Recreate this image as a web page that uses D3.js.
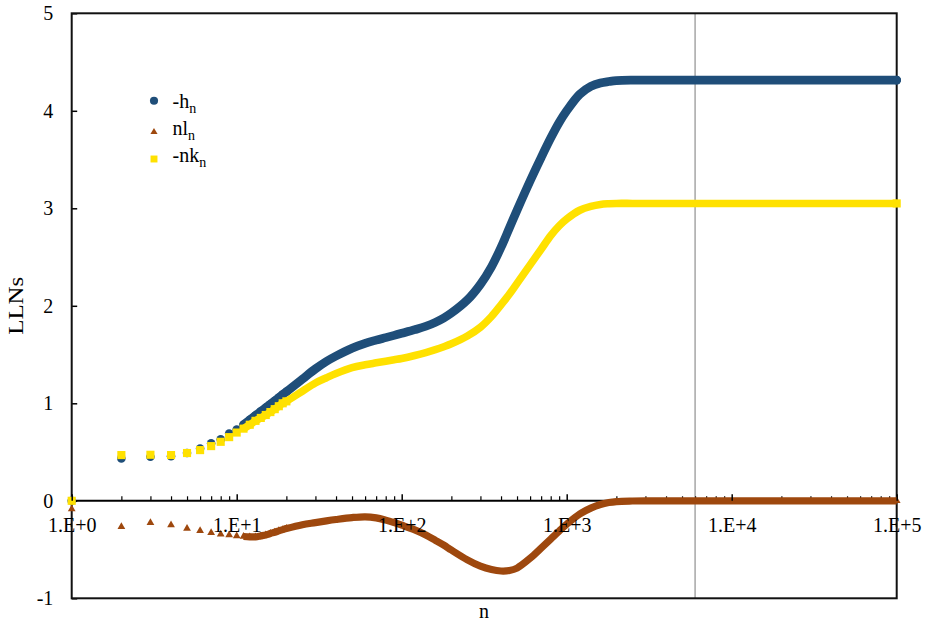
<!DOCTYPE html>
<html>
<head>
<meta charset="utf-8">
<script src="https://cdn.jsdelivr.net/npm/d3@7"></script>
<style>
  html, body { margin: 0; padding: 0; background: #fff; }
  svg { display: block; }
  text { font-family: "Liberation Serif", "Times New Roman", serif; fill: #000; }
</style>
</head>
<body>
<svg id="chart" width="925" height="630"></svg>
<script>
// Sample sizes n and the three limit quantities at each n
const nValues = [1, 2, 3, 4, 5, 6, 7, 8, 9, 10,
  11, 12, 13, 14, 15, 16, 17, 18, 19, 20,
  25, 30, 35, 40, 50, 60, 70, 80, 90, 100,
  120, 140, 160, 180, 200, 250, 300, 350, 400, 450,
  500, 600, 700, 800, 900, 1000, 1200, 1400, 1600, 1800,
  2000, 2500, 3000, 4000, 5000, 7000, 10000, 20000, 50000, 100000];

const negH = [0, 0.435, 0.451, 0.458, 0.49, 0.537, 0.589, 0.63, 0.69, 0.73,
  0.78, 0.83, 0.875, 0.917, 0.955, 0.99, 1.025, 1.058, 1.09, 1.118,
  1.248, 1.353, 1.43, 1.485, 1.565, 1.615, 1.648, 1.674, 1.697, 1.718,
  1.755, 1.79, 1.83, 1.875, 1.925, 2.06, 2.22, 2.40, 2.60, 2.80,
  2.98, 3.28, 3.52, 3.72, 3.88, 4.0, 4.17, 4.25, 4.285, 4.30,
  4.31, 4.315, 4.315, 4.315, 4.315, 4.315, 4.315, 4.315, 4.315, 4.315];

const nL = [-0.085, -0.267, -0.226, -0.249, -0.283, -0.307, -0.328, -0.342, -0.35, -0.362,
  -0.366, -0.37, -0.37, -0.36, -0.35, -0.335, -0.322, -0.308, -0.296, -0.285,
  -0.245, -0.224, -0.206, -0.192, -0.172, -0.164, -0.175, -0.198, -0.224, -0.25,
  -0.298, -0.35, -0.405, -0.455, -0.505, -0.605, -0.67, -0.705, -0.72, -0.715,
  -0.69, -0.59, -0.485, -0.392, -0.31, -0.24, -0.135, -0.075, -0.038, -0.018,
  -0.008, -0.002, 0, 0, 0, 0, 0, 0, 0, 0];

const negNK = [0, 0.469, 0.472, 0.469, 0.49, 0.52, 0.561, 0.605, 0.653, 0.70,
  0.74, 0.78, 0.82, 0.85, 0.88, 0.91, 0.94, 0.97, 1.0, 1.02,
  1.124, 1.208, 1.262, 1.305, 1.365, 1.395, 1.415, 1.432, 1.447, 1.46,
  1.49, 1.52, 1.55, 1.58, 1.61, 1.69, 1.78, 1.89, 2.01, 2.12,
  2.23, 2.42, 2.58, 2.72, 2.82, 2.89, 2.98, 3.02, 3.04, 3.047,
  3.05, 3.05, 3.05, 3.05, 3.05, 3.05, 3.05, 3.05, 3.05, 3.05];

const xMajorTicks = [1, 10, 100, 1000, 10000, 100000];
const xTickLabels = ["1.E+0", "1.E+1", "1.E+2", "1.E+3", "1.E+4", "1.E+5"];
const yTicks = [-1, 0, 1, 2, 3, 4, 5];
const referenceN = 6000;

const seriesNames = ["-h", "nl", "-nk"];
const seriesColors = ["#1F4E79", "#9E480E", "#FFE100"];

const svg = d3.select("#chart");
const W = 925, H = 630;
const plotLeft = 71.7, plotRight = 896.7, plotTop = 13.3, plotBottom = 598.3;

const x = d3.scaleLog().domain([1, 100000]).range([plotLeft, plotRight]);
const y = d3.scaleLinear().domain([-1, 5]).range([plotBottom, plotTop]);

svg.append("rect").attr("width", W).attr("height", H).attr("fill", "#fff");

// vertical reference line
svg.append("line")
  .attr("x1", x(referenceN)).attr("x2", x(referenceN))
  .attr("y1", plotTop).attr("y2", plotBottom)
  .attr("stroke", "#A6A6A6").attr("stroke-width", 1.5);

// y axis: ticks point inward, labels to the left
const yAxis = d3.axisLeft(y).tickValues(yTicks).tickSizeInner(-5.5).tickSizeOuter(0).tickPadding(18.4)
  .tickFormat(d => String(d));
const gy = svg.append("g").attr("transform", `translate(${plotLeft},0)`).call(yAxis);
gy.attr("font-size", null).attr("font-family", null);
gy.select(".domain").remove();
gy.selectAll(".tick line").attr("stroke", "#000").attr("stroke-width", 1.5);
gy.selectAll(".tick text").style("font-size", "20px").attr("fill", "#000");

// x axis drawn along y = 0 with ticks pointing up
const minorTicks = [];
for (let e = 0; e < 5; e++) for (let k = 2; k <= 9; k++) minorTicks.push(k * Math.pow(10, e));

const xMinor = d3.axisBottom(x).tickValues(minorTicks).tickSizeInner(-4.5).tickSizeOuter(0).tickFormat("");
const gxm = svg.append("g").attr("transform", `translate(0,${y(0)})`).call(xMinor);
gxm.select(".domain").remove();
gxm.selectAll(".tick line").attr("stroke", "#000").attr("stroke-width", 1.2);

svg.append("line")
  .attr("x1", plotLeft).attr("x2", plotRight).attr("y1", y(0)).attr("y2", y(0))
  .attr("stroke", "#000").attr("stroke-width", 2);

// plot border
svg.append("rect")
  .attr("x", plotLeft).attr("y", plotTop).attr("width", plotRight - plotLeft).attr("height", plotBottom - plotTop)
  .attr("fill", "none").attr("stroke", "#111").attr("stroke-width", 2);

// series
const seriesValues = [negH, nL, negNK];
const symbols = [d3.symbolCircle, d3.symbolTriangle, d3.symbolSquare];
const symbolSizes = [58, 26, 66];
const bandWidths = [8.7, 7.2, 7.6];
const bandCaps = ["round", "butt", "butt"];
const denseFrom = 11;

const plot = svg.append("g");
seriesValues.forEach((vals, si) => {
  const pts = nValues.map((n, i) => ({ n, v: vals[i] }));
  const dense = pts.filter(p => p.n >= denseFrom);
  const line = d3.line().x(p => x(p.n)).y(p => y(p.v)).curve(d3.curveCatmullRom.alpha(0.5));
  const g = plot.append("g");
  g.append("path").datum(dense)
    .attr("d", line)
    .attr("fill", "none")
    .attr("stroke", seriesColors[si])
    .attr("stroke-width", bandWidths[si])
    .attr("stroke-linecap", bandCaps[si])
    .attr("stroke-linejoin", "round");
  g.selectAll("path.mk").data(pts.filter(p => p.n <= 20 || p.n === 100000)).enter().append("path")
    .attr("class", "mk")
    .attr("transform", p => `translate(${x(p.n)},${y(p.v)})`)
    .attr("d", d3.symbol().type(symbols[si]).size(symbolSizes[si]))
    .attr("fill", seriesColors[si]);
});

// major x ticks and labels drawn above the series
const xAxis = d3.axisBottom(x).tickValues(xMajorTicks).tickSizeInner(-6.5).tickSizeOuter(0).tickPadding(17.5)
  .tickFormat((d, i) => xTickLabels[i]);
const gx = svg.append("g").attr("transform", `translate(0,${y(0)})`).call(xAxis);
gx.attr("font-size", null).attr("font-family", null);
gx.select(".domain").remove();
gx.selectAll(".tick line").attr("stroke", "#000").attr("stroke-width", 1.5);
gx.selectAll(".tick text").style("font-size", "20px").attr("fill", "#000");

// axis titles
svg.append("text")
  .attr("transform", `translate(23,${y(2)}) rotate(-90)`)
  .attr("text-anchor", "middle")
  .style("font-size", "20px")
  .attr("textLength", 58)
  .attr("lengthAdjust", "spacingAndGlyphs")
  .text("LLNs");

svg.append("text")
  .attr("x", 484).attr("y", 618)
  .attr("text-anchor", "middle")
  .style("font-size", "20px")
  .text("n");

// legend
const legendRows = [108, 135, 162];
const legendMarkerY = [100.7, 132, 159];
const legendSizes = [52, 22, 48];
const legend = svg.append("g");
seriesNames.forEach((name, i) => {
  legend.append("path")
    .attr("transform", `translate(154,${legendMarkerY[i]})`)
    .attr("d", d3.symbol().type(symbols[i]).size(legendSizes[i]))
    .attr("fill", seriesColors[i]);
  const t = legend.append("text")
    .attr("x", 172.5).attr("y", legendRows[i])
    .style("font-size", "20px");
  t.append("tspan").text(name);
  t.append("tspan").attr("dy", 5).style("font-size", "14px").text("n");
});
</script>
</body>
</html>
